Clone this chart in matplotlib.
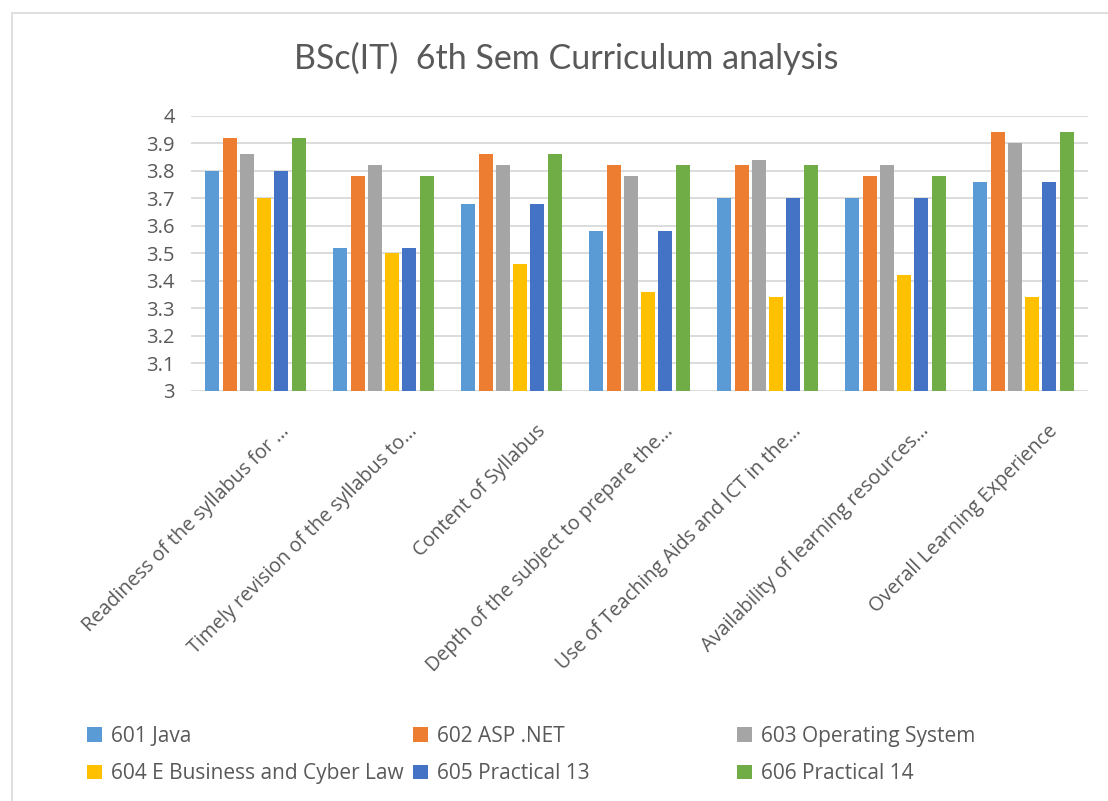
import matplotlib.pyplot as plt
import numpy as np
from matplotlib.patches import Rectangle
from matplotlib.transforms import ScaledTranslation

# categories (as shown on the chart, already truncated)
categories = ['Readiness of the syllabus for …',
              'Timely revision of the syllabus to…',
              'Content of Syllabus',
              'Depth of the subject to prepare the…',
              'Use of Teaching Aids and ICT in the…',
              'Availability of learning resources…',
              'Overall Learning Experience']

series_names = ['601 Java', '602 ASP .NET', '603 Operating System',
                '604 E Business and Cyber Law', '605 Practical 13', '606 Practical 14']

java = [3.80, 3.52, 3.68, 3.58, 3.70, 3.70, 3.76]
asp_net = [3.92, 3.78, 3.86, 3.82, 3.82, 3.78, 3.94]
operating_system = [3.86, 3.82, 3.82, 3.78, 3.84, 3.82, 3.90]
ebusiness_cyber = [3.70, 3.50, 3.46, 3.36, 3.34, 3.42, 3.34]
practical_13 = [3.80, 3.52, 3.68, 3.58, 3.70, 3.70, 3.76]
practical_14 = [3.92, 3.78, 3.86, 3.82, 3.82, 3.78, 3.94]

y_ticks = [3, 3.1, 3.2, 3.3, 3.4, 3.5, 3.6, 3.7, 3.8, 3.9, 4]
y_tick_labels = ['3', '3.1', '3.2', '3.3', '3.4', '3.5', '3.6', '3.7', '3.8', '3.9', '4']

colors = ['#5B9BD5', '#ED7D31', '#A5A5A5', '#FFC000', '#4472C4', '#70AD47']
text_grey = '#595959'
grid_grey = '#D9D9D9'

plt.rcParams['font.family'] = ['Open Sans', 'DejaVu Sans']

fig = plt.figure(figsize=(11.08, 8.01), dpi=100)
ax = fig.add_axes([0.1728, 0.5119, 0.8087, 0.3433])

all_series = [java, asp_net, operating_system, ebusiness_cyber, practical_13, practical_14]
x = np.arange(len(categories))
step = 0.135
width = 0.109
handles = []
for i, vals in enumerate(all_series):
    bars = ax.bar(x + (i - 2.5) * step, np.array(vals) - 3, width=width, bottom=3,
                  color=colors[i], label=series_names[i], zorder=3)
    handles.append(bars)

ax.set_xlim(-0.5, len(categories) - 0.5)
ax.set_ylim(3, 4)
ax.set_yticks(y_ticks)
ax.set_yticklabels(y_tick_labels, fontsize=14.5, color=text_grey)
ax.tick_params(axis='y', length=0, pad=12)
ax.yaxis.grid(True, color=grid_grey, linewidth=1.3, zorder=0)
ax.set_axisbelow(True)
for s in ax.spines.values():
    s.set_visible(False)

ax.set_xticks(x)
ax.set_xticklabels(categories, rotation=45, ha='right', va='top',
                   rotation_mode='anchor', fontsize=14.2, color=text_grey)
ax.tick_params(axis='x', length=0, pad=0)
# push the rotated labels a bit right and down, like Excel does
offset = ScaledTranslation(24 / 100, -30 / 100, fig.dpi_scale_trans)
for lbl in ax.get_xticklabels():
    lbl.set_transform(lbl.get_transform() + offset)

# title
fig.text(566 / 1108, 1 - 58 / 801, 'BSc(IT)  6th Sem Curriculum analysis',
         ha='center', va='center', fontsize=24.5, color=text_grey, family=['Lato', 'DejaVu Sans'])

# legend, laid out row by row in three equal columns
col_x = [87, 413, 737]
for c in range(3):
    hs = [handles[c], handles[c + 3]]
    ls = [series_names[c], series_names[c + 3]]
    fig.legend(hs, ls, loc='center left', bbox_to_anchor=(col_x[c] / 1108, 1 - 755 / 801),
               frameon=False, fontsize=15, labelcolor=text_grey, handlelength=0.7,
               handleheight=0.7, handletextpad=0.45, labelspacing=0.8, borderpad=0,
               borderaxespad=0)

# chart area border
fig.add_artist(Rectangle((12 / 1108, -0.1), 1.2, 1.1 - 13 / 801, transform=fig.transFigure,
                         fill=False, edgecolor=grid_grey, linewidth=1.2))

fig.savefig('out.png', dpi=100)
